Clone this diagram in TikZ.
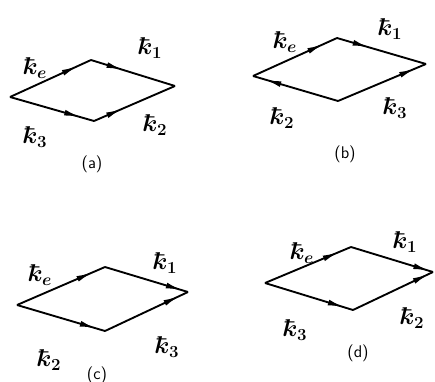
\documentclass[tikz,border=0pt]{standalone}
\usetikzlibrary{arrows.meta,decorations.markings}
\newcommand{\kb}{\mathchar'26\mkern-9mu k}
\begin{document}
\begin{tikzpicture}[x=0.03cm,y=-0.03cm,
  edge/.style={line width=1.6pt, line join=round},
  arr/.style={edge, postaction={decorate}, decoration={markings, mark=at position #1 with {\arrow{Latex[length=14pt,width=5pt]}}}},
  lab/.style={font=\huge\boldmath, inner sep=0pt},
  capt/.style={font=\sffamily\Large, inner sep=0pt}]
\useasboundingbox (0,0) rectangle (435,382);
% (a)
\coordinate (aL) at (10,97); \coordinate (aT) at (91,60);
\coordinate (aR) at (175,86); \coordinate (aB) at (94,121);
\draw[arr=0.84] (aL) -- (aT);
\draw[arr=0.38] (aT) -- (aR);
\draw[arr=0.84] (aL) -- (aB);
\draw[arr=0.35] (aB) -- (aR);
\node[lab] (ae) at (35,68) {$\kb_e$};
\node[lab] (a1) at (150,48) {$\kb_1$};
\node[lab] (a2) at (155,125) {$\kb_2$};
\node[lab] (a3) at (35,137) {$\kb_3$};
\node[capt] (ca) at (92,164) {(a)};
% (b)
\coordinate (bL) at (253,76); \coordinate (bT) at (337,38);
\coordinate (bR) at (426,64); \coordinate (bB) at (338,101);
\draw[arr=0.84] (bL) -- (bT);
\draw[arr=0.36] (bT) -- (bR);
\draw[arr=0.88] (bB) -- (bR);
\draw[arr=0.86] (bB) -- (bL);
\node[lab] (be) at (285,42) {$\kb_e$};
\node[lab] (b1) at (390,29) {$\kb_1$};
\node[lab] (b2) at (282,118) {$\kb_2$};
\node[lab] (b3) at (395,108) {$\kb_3$};
\node[capt] (cb) at (345,154) {(b)};
% (c)
\coordinate (cL) at (17,305); \coordinate (cT) at (105,267);
\coordinate (cR) at (188,292); \coordinate (cB) at (105,331);
\draw[arr=0.86] (cL) -- (cT);
\draw[arr=0.93] (cT) -- (cR);
\draw[arr=0.9] (cB) -- (cR);
\draw[arr=0.9] (cL) -- (cB);
\node[lab] (ce) at (40,275) {$\kb_e$};
\node[lab] (c1) at (165,263) {$\kb_1$};
\node[lab] (c2) at (49,360) {$\kb_2$};
\node[lab] (c3) at (167,347) {$\kb_3$};
\node[capt] (cc) at (97,375) {(c)};
% (d)
\coordinate (dL) at (265,283); \coordinate (dT) at (351,247);
\coordinate (dR) at (433,272); \coordinate (dB) at (353,310);
\draw[arr=0.86] (dL) -- (dT);
\draw[arr=0.96] (dT) -- (dR);
\draw[arr=0.95] (dB) -- (dR);
\draw[arr=0.9] (dL) -- (dB);
\node[lab] (de) at (302,253) {$\kb_e$};
\node[lab] (d1) at (405,242) {$\kb_1$};
\node[lab] (d2) at (412,318) {$\kb_2$};
\node[lab] (d3) at (295,330) {$\kb_3$};
\node[capt] (cd) at (358,353) {(d)};
\end{tikzpicture}
\end{document}
